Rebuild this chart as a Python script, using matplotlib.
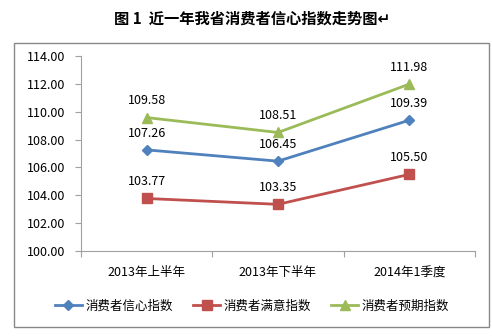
import matplotlib
matplotlib.use('Agg')
import matplotlib.pyplot as plt
from matplotlib.patches import Rectangle

plt.rcParams['font.family'] = ['Noto Sans CJK SC', 'DejaVu Sans']

categories = ['2013年上半年', '2013年下半年', '2014年1季度']
confidence = [107.26, 106.45, 109.39]
satisfaction = [103.77, 103.35, 105.50]
expectation = [109.58, 108.51, 111.98]
y_ticks = [100, 102, 104, 106, 108, 110, 112, 114]

fig = plt.figure(figsize=(4.92, 3.36), dpi=100)
fig.patches.append(Rectangle((0.0285, 0.027), 0.965, 0.845, transform=fig.transFigure,
                             fill=False, edgecolor='#888888', linewidth=1))
fig.text(0.512, 0.946, '图 1  近一年我省消费者信心指数走势图↵', ha='center', va='center',
         fontsize=11, fontweight='bold')

ax = fig.add_axes([0.1646, 0.253, 0.8008, 0.5803])
x = range(len(categories))
series = [
    (confidence, '#4F81BD', 'D', 5.5, '消费者信心指数'),
    (satisfaction, '#C0504D', 's', 6.5, '消费者满意指数'),
    (expectation, '#9BBB59', '^', 7, '消费者预期指数'),
]
for vals, c, m, ms, name in series:
    ax.plot(x, vals, color=c, marker=m, markersize=ms, linewidth=2, label=name)
    for xi, v in zip(x, vals):
        ax.annotate('%.2f' % v, (xi, v), xytext=(0, 12), textcoords='offset points',
                    ha='center', va='center', fontsize=9)

ax.set_xlim(-0.5, 2.5)
ax.set_ylim(100, 114)
ax.set_yticks(y_ticks)
ax.set_yticklabels(['%.2f' % t for t in y_ticks], fontsize=9)
ax.set_xticks([-0.5, 0.5, 1.5, 2.5])
ax.set_xticklabels([])
ax.set_xticks(list(x), minor=True)
ax.set_xticklabels(categories, minor=True, fontsize=9)
ax.tick_params(axis='x', which='minor', length=0, pad=11)
ax.tick_params(axis='x', which='major', length=4, color='#A0A0A0')
ax.tick_params(axis='y', length=4, color='#A0A0A0', pad=7)
for s in ['top', 'right']:
    ax.spines[s].set_visible(False)
for s in ['left', 'bottom']:
    ax.spines[s].set_color('#A0A0A0')

fig.legend(loc='center', bbox_to_anchor=(0.512, 0.089), ncol=3, frameon=False, fontsize=9,
           handlelength=2.2, handletextpad=0.25, columnspacing=1.6)

fig.savefig('out.png', dpi=100)
